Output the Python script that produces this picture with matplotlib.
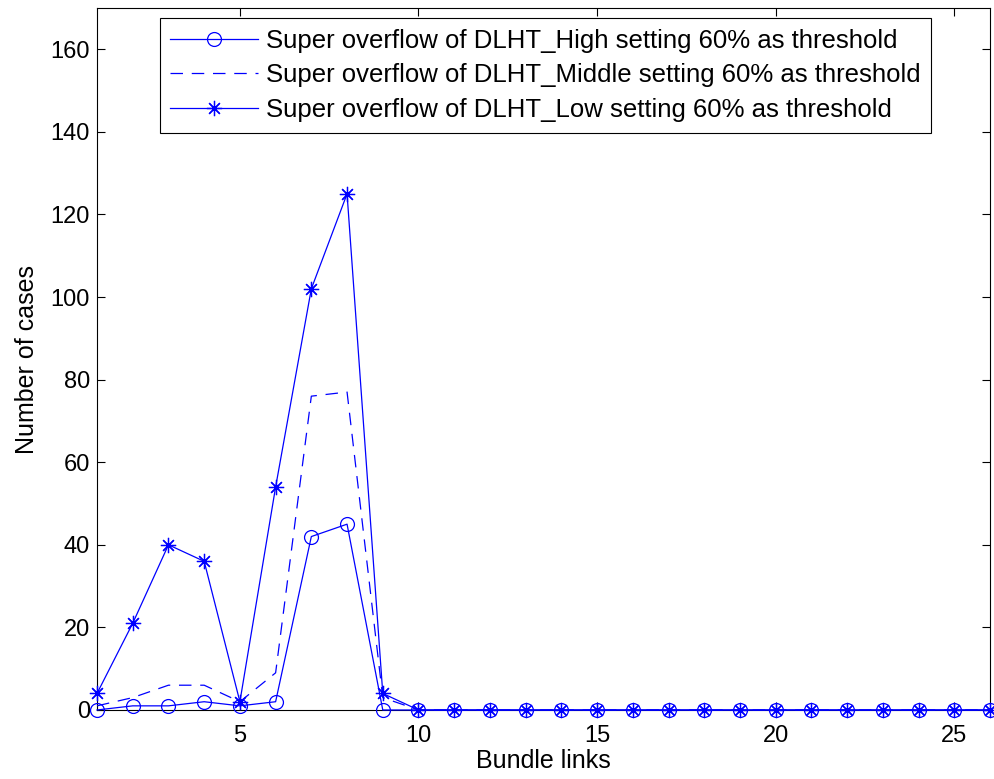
import matplotlib
matplotlib.use("Agg")
import matplotlib.pyplot as plt

x = list(range(1, 27))
high = [0, 1, 1, 2, 1, 2, 42, 45, 0] + [0] * 17
middle = [1, 3, 6, 6, 2, 9, 76, 77, 3] + [0] * 17
low = [4, 21, 40, 36, 2, 54, 102, 125, 4] + [0] * 17
labels = ["Super overflow of DLHT_High setting 60% as threshold",
          "Super overflow of DLHT_Middle setting 60% as threshold",
          "Super overflow of DLHT_Low setting 60% as threshold"]

plt.rcParams['font.family'] = ['Liberation Sans', 'DejaVu Sans']
fig = plt.figure(figsize=(9.95, 7.79), dpi=100)
ax = fig.add_axes([0.0975, 0.0886, 0.8975, 0.9011])
blue = '#0000ff'
ax.plot(x, high, color=blue, lw=0.9, marker='o', ms=10, mfc='none', mec=blue, mew=0.9,
        label=labels[0], clip_on=False, zorder=5)
ax.plot(x, middle, color=blue, lw=0.9, ls=(0, (10, 7)), label=labels[1], clip_on=False, zorder=5)
ax.plot(x, low, color=blue, lw=0.9, marker=(8, 2, 0), ms=11, mec=blue, mew=0.9,
        label=labels[2], clip_on=False, zorder=5)

ax.set_xlim(1, 26)
ax.set_ylim(0, 170)
ax.set_xticks([5, 10, 15, 20, 25])
ax.set_yticks(range(0, 161, 20))
ax.tick_params(direction='in', top=True, right=True, labelsize=17, length=6, width=0.8, pad=5)
ax.tick_params(axis='x', pad=11)
for s in ax.spines.values():
    s.set_linewidth(0.8)
ax.set_xlabel("Bundle links", fontsize=18, labelpad=1)
ax.set_ylabel("Number of cases", fontsize=18, labelpad=8)
leg = ax.legend(loc='upper center', bbox_to_anchor=(0.502, 0.986), fontsize=18.5,
                handlelength=3.4, fancybox=False, edgecolor='black', framealpha=1,
                borderpad=0.42, labelspacing=0.42, handletextpad=0.3, borderaxespad=0)
leg.get_frame().set_linewidth(0.8)
fig.savefig("out.png", dpi=100)
